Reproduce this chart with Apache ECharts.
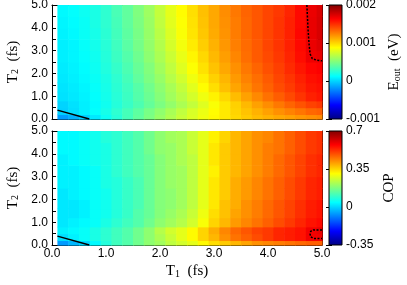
<!DOCTYPE html>
<html>
<head>
<meta charset="utf-8">
<script src="https://cdn.jsdelivr.net/npm/echarts@6/dist/echarts.min.js"></script>
<style>
  html, body { margin: 0; padding: 0; background: #fff; }
  #main { width: 407px; height: 285px; }
</style>
</head>
<body>
<div id="main"></div>
<script>
// cell centres along T1 (fs), 0.2 fs wide
const t1Centers = [0.2, 0.4, 0.6, 0.8, 1.0, 1.2, 1.4, 1.6, 1.8, 2.0, 2.2, 2.4, 2.6,
  2.8, 3.0, 3.2, 3.4, 3.6, 3.8, 4.0, 4.2, 4.4, 4.6, 4.8, 5.0];
// row edges along T2 (fs)
const t2Edges = [0, 0.2, 0.5, 0.8, 1.2, 1.6, 2.0, 2.5, 3.0, 3.5, 4.0, 4.5, 5.0];

// E_out in units of 1e-3 eV, one row per T2 band, from T2 = 0 upward
const eOutRows = [
  [-0.16, -0.10, -0.02, 0.06, 0.16, 0.24, 0.33, 0.41, 0.49, 0.57, 0.64, 0.71, 0.77, 0.83, 0.89, 0.94, 0.99, 1.03, 1.07, 1.10, 1.13, 1.15, 1.18, 1.20, 1.22],
  [-0.01, 0.03, 0.08, 0.13, 0.19, 0.26, 0.33, 0.40, 0.48, 0.55, 0.62, 0.69, 0.76, 0.82, 0.88, 0.94, 1.00, 1.05, 1.10, 1.15, 1.20, 1.24, 1.28, 1.32, 1.34],
  [0.00, 0.04, 0.08, 0.12, 0.17, 0.23, 0.29, 0.35, 0.42, 0.49, 0.56, 0.63, 0.70, 0.78, 0.86, 0.94, 1.01, 1.08, 1.15, 1.21, 1.27, 1.33, 1.38, 1.43, 1.46],
  [0.04, 0.06, 0.09, 0.13, 0.18, 0.24, 0.30, 0.37, 0.44, 0.52, 0.60, 0.67, 0.75, 0.83, 0.91, 0.99, 1.07, 1.15, 1.22, 1.29, 1.35, 1.41, 1.47, 1.53, 1.56],
  [0.05, 0.07, 0.10, 0.14, 0.19, 0.25, 0.31, 0.38, 0.46, 0.54, 0.62, 0.70, 0.79, 0.88, 0.97, 1.06, 1.14, 1.21, 1.28, 1.34, 1.40, 1.45, 1.51, 1.56, 1.58],
  [0.06, 0.08, 0.11, 0.15, 0.20, 0.26, 0.33, 0.41, 0.49, 0.57, 0.66, 0.74, 0.83, 0.92, 1.01, 1.09, 1.17, 1.24, 1.30, 1.36, 1.42, 1.47, 1.53, 1.58, 1.60],
  [0.07, 0.09, 0.12, 0.16, 0.22, 0.28, 0.35, 0.43, 0.51, 0.60, 0.69, 0.78, 0.87, 0.96, 1.05, 1.13, 1.20, 1.27, 1.33, 1.39, 1.44, 1.50, 1.56, 1.61, 1.63],
  [0.08, 0.10, 0.13, 0.17, 0.23, 0.30, 0.37, 0.45, 0.54, 0.63, 0.72, 0.81, 0.90, 0.99, 1.08, 1.16, 1.23, 1.30, 1.36, 1.41, 1.46, 1.52, 1.59, 1.67, 1.69],
  [0.08, 0.10, 0.14, 0.18, 0.24, 0.31, 0.39, 0.47, 0.56, 0.65, 0.75, 0.84, 0.93, 1.02, 1.10, 1.18, 1.25, 1.31, 1.36, 1.42, 1.47, 1.53, 1.60, 1.68, 1.72],
  [0.09, 0.11, 0.15, 0.19, 0.25, 0.32, 0.40, 0.48, 0.57, 0.67, 0.77, 0.86, 0.95, 1.04, 1.12, 1.19, 1.26, 1.32, 1.37, 1.42, 1.47, 1.53, 1.61, 1.69, 1.74],
  [0.10, 0.12, 0.15, 0.20, 0.26, 0.33, 0.41, 0.49, 0.58, 0.69, 0.79, 0.87, 0.96, 1.05, 1.13, 1.20, 1.26, 1.32, 1.37, 1.42, 1.47, 1.53, 1.60, 1.69, 1.74],
  [0.11, 0.13, 0.16, 0.20, 0.26, 0.34, 0.41, 0.50, 0.59, 0.70, 0.80, 0.88, 0.97, 1.06, 1.13, 1.21, 1.27, 1.33, 1.37, 1.42, 1.46, 1.52, 1.60, 1.68, 1.73]
];

// COP, same layout
const copRows = [
  [-0.06, -0.03, 0.00, 0.04, 0.08, 0.11, 0.13, 0.16, 0.19, 0.21, 0.24, 0.26, 0.28, 0.31, 0.34, 0.36, 0.38, 0.40, 0.42, 0.43, 0.44, 0.45, 0.46, 0.47, 0.47],
  [0.01, 0.03, 0.05, 0.07, 0.09, 0.11, 0.13, 0.16, 0.19, 0.22, 0.25, 0.28, 0.31, 0.35, 0.38, 0.42, 0.45, 0.47, 0.49, 0.51, 0.53, 0.54, 0.55, 0.58, 0.58],
  [0.03, 0.04, 0.05, 0.07, 0.09, 0.11, 0.13, 0.16, 0.19, 0.23, 0.26, 0.28, 0.31, 0.35, 0.39, 0.43, 0.46, 0.48, 0.50, 0.51, 0.53, 0.54, 0.55, 0.58, 0.59],
  [0.02, 0.03, 0.04, 0.05, 0.07, 0.09, 0.11, 0.13, 0.16, 0.19, 0.21, 0.23, 0.26, 0.30, 0.35, 0.38, 0.41, 0.43, 0.45, 0.47, 0.49, 0.51, 0.53, 0.55, 0.56],
  [0.02, 0.02, 0.03, 0.05, 0.06, 0.08, 0.10, 0.13, 0.15, 0.18, 0.20, 0.22, 0.25, 0.29, 0.34, 0.37, 0.40, 0.42, 0.44, 0.46, 0.48, 0.50, 0.52, 0.54, 0.55],
  [0.02, 0.02, 0.03, 0.05, 0.06, 0.08, 0.10, 0.12, 0.15, 0.18, 0.19, 0.21, 0.24, 0.28, 0.33, 0.37, 0.39, 0.42, 0.44, 0.46, 0.48, 0.50, 0.52, 0.54, 0.55],
  [0.02, 0.03, 0.04, 0.05, 0.06, 0.08, 0.10, 0.12, 0.15, 0.18, 0.19, 0.21, 0.24, 0.28, 0.33, 0.36, 0.39, 0.41, 0.43, 0.45, 0.47, 0.49, 0.51, 0.53, 0.54],
  [0.03, 0.03, 0.04, 0.05, 0.07, 0.08, 0.10, 0.12, 0.15, 0.18, 0.20, 0.21, 0.24, 0.28, 0.33, 0.36, 0.39, 0.41, 0.43, 0.45, 0.47, 0.49, 0.51, 0.53, 0.54],
  [0.03, 0.03, 0.04, 0.05, 0.07, 0.09, 0.11, 0.13, 0.15, 0.18, 0.20, 0.21, 0.24, 0.28, 0.32, 0.36, 0.38, 0.40, 0.42, 0.44, 0.46, 0.48, 0.50, 0.52, 0.53],
  [0.03, 0.04, 0.05, 0.06, 0.07, 0.09, 0.11, 0.13, 0.15, 0.18, 0.20, 0.22, 0.24, 0.28, 0.33, 0.36, 0.38, 0.40, 0.42, 0.44, 0.46, 0.48, 0.50, 0.52, 0.53],
  [0.04, 0.04, 0.05, 0.06, 0.07, 0.09, 0.11, 0.13, 0.16, 0.19, 0.20, 0.22, 0.25, 0.28, 0.33, 0.36, 0.38, 0.40, 0.42, 0.44, 0.45, 0.47, 0.49, 0.51, 0.52],
  [0.04, 0.04, 0.05, 0.06, 0.08, 0.09, 0.11, 0.13, 0.16, 0.19, 0.21, 0.22, 0.25, 0.28, 0.32, 0.35, 0.38, 0.40, 0.42, 0.43, 0.45, 0.47, 0.49, 0.51, 0.52]
];

// contour lines [T1, T2]
const eOutZeroLine = [[0.1, 0.39], [0.69, 0]];
const eOutHighLine = [[4.72, 5.0], [4.74, 4.0], [4.76, 3.3], [4.78, 2.85], [4.82, 2.65], [4.9, 2.58], [5.0, 2.55]];
const copZeroLine = [[0.1, 0.39], [0.69, 0]];
const copHighLoop = [[5.0, 0.66], [4.84, 0.66], [4.79, 0.6], [4.78, 0.48], [4.79, 0.36], [4.84, 0.29], [5.0, 0.29]];

// colour bar ranges and ticks
const eOutRange = [-1, 2];            // 1e-3 eV
const eOutTickLabels = { '-1': '-0.001', '0': '0', '1': '0.001', '2': '0.002' };
const copRange = [-0.35, 0.7];
const copTickLabels = { '-0.35': '-0.35', '0': '0', '0.35': '0.35', '0.7': '0.7' };

const jet = ['#00007f', '#0000ff', '#007fff', '#00ffff', '#7fff7f', '#ffff00', '#ff7f00', '#ff0000', '#7f0000'];
const sans = 'Liberation Sans, Arial, sans-serif';
const serif = 'Liberation Serif, Times New Roman, serif';

function buildCells(rows) {
  const out = [];
  rows.forEach((row, r) => {
    row.forEach((v, c) => {
      const x = t1Centers[c];
      out.push([Math.max(x - 0.1, 0.1), Math.min(x + 0.1, 5.0), t2Edges[r], t2Edges[r + 1], v]);
    });
  });
  return out;
}

function renderCell(params, api) {
  const p0 = api.coord([api.value(0), api.value(3)]);
  const p1 = api.coord([api.value(1), api.value(2)]);
  return {
    type: 'rect',
    shape: { x: p0[0], y: p0[1], width: p1[0] - p0[0] + 0.6, height: p1[1] - p0[1] + 0.6 },
    style: { fill: api.visual('color') }
  };
}

function renderBar(params, api) {
  const p0 = api.coord([0, api.value(1)]);
  const p1 = api.coord([1, api.value(0)]);
  const stops = jet.map((c, i) => ({ offset: i / (jet.length - 1), color: c }));
  return {
    type: 'rect',
    shape: { x: p0[0], y: p0[1], width: p1[0] - p0[0], height: p1[1] - p0[1] },
    style: {
      fill: { type: 'linear', x: 0, y: 1, x2: 0, y2: 0, colorStops: stops },
      stroke: '#000', lineWidth: 1
    }
  };
}

const tickStyle = { color: '#000', width: 1 };
const subRich = {
  t: { fontFamily: serif, fontSize: 15, color: '#000', lineHeight: 20, verticalAlign: 'bottom' },
  s: { fontFamily: serif, fontSize: 10, color: '#000', lineHeight: 13, verticalAlign: 'bottom' }
};

function panelX(grid, pos, labels) {
  const ax = {
    type: 'value', gridIndex: grid, position: pos, min: 0, max: 5, interval: 1,
    axisLine: { show: true, onZero: false, lineStyle: tickStyle },
    axisTick: { show: true, inside: true, length: 4, lineStyle: tickStyle },
    minorTick: { show: true, splitNumber: 2, length: 4, lineStyle: tickStyle },
    splitLine: { show: false },
    axisLabel: { show: labels, margin: 3, fontFamily: sans, fontSize: 12, color: '#000',
      formatter: v => v.toFixed(1) }
  };
  if (labels) {
    ax.name = '{t|T}{s|1}{t|  (fs)}';
    ax.nameLocation = 'middle';
    ax.nameGap = 14;
    ax.nameTextStyle = { rich: subRich };
  }
  return ax;
}

function panelY(grid, pos, labels) {
  const ax = {
    type: 'value', gridIndex: grid, position: pos, min: 0, max: 5, interval: 1,
    axisLine: { show: true, onZero: false, lineStyle: tickStyle },
    axisTick: { show: true, inside: true, length: 4, lineStyle: tickStyle },
    minorTick: { show: true, splitNumber: 2, length: 4, lineStyle: tickStyle },
    splitLine: { show: false },
    axisLabel: { show: labels, margin: 4, fontFamily: sans, fontSize: 12, color: '#000',
      formatter: v => v.toFixed(1) }
  };
  if (labels) {
    ax.name = '{t|T}{s|2}{t|  (fs)}';
    ax.nameLocation = 'middle';
    ax.nameRotate = 90;
    ax.nameGap = 28;
    ax.nameTextStyle = { rich: subRich };
  }
  return ax;
}

function barY(grid, pos, range, interval, labels, name) {
  const ax = {
    type: 'value', gridIndex: grid, position: pos, min: range[0], max: range[1], interval: interval,
    axisLine: { show: false },
    axisTick: { show: true, inside: true, length: 3, lineStyle: tickStyle },
    splitLine: { show: false },
    axisLabel: { show: !!labels, margin: 4, fontFamily: sans, fontSize: 12, color: '#000',
      formatter: v => labels ? labels[String(+v.toFixed(2))] : '' }
  };
  if (name) {
    ax.name = name;
    ax.nameLocation = 'middle';
    ax.nameRotate = 90;
    ax.nameGap = 40;
    ax.nameTextStyle = { rich: subRich, fontFamily: serif, fontSize: 15, color: '#000' };
  }
  return ax;
}

const chart = echarts.init(document.getElementById('main'), null, { renderer: 'canvas' });

chart.setOption({
  animation: false,
  backgroundColor: '#fff',
  grid: [
    { left: 52, top: 5, width: 270, height: 114, outerBoundsMode: 'none' },
    { left: 52, top: 131, width: 270, height: 114, outerBoundsMode: 'none' },
    { left: 329, top: 5, width: 13, height: 114, outerBoundsMode: 'none' },
    { left: 329, top: 131, width: 13, height: 114, outerBoundsMode: 'none' }
  ],
  xAxis: [
    panelX(0, 'bottom', false),
    panelX(0, 'top', false),
    panelX(1, 'bottom', true),
    panelX(1, 'top', false),
    { type: 'value', gridIndex: 2, min: 0, max: 1, show: false },
    { type: 'value', gridIndex: 3, min: 0, max: 1, show: false }
  ],
  yAxis: [
    panelY(0, 'left', true),
    panelY(0, 'right', false),
    panelY(1, 'left', true),
    panelY(1, 'right', false),
    barY(2, 'right', eOutRange, 1, eOutTickLabels, '{t|E}{s|out}{t|  (eV)}'),
    barY(2, 'left', eOutRange, 1, null),
    barY(3, 'right', copRange, 0.35, copTickLabels, 'COP'),
    barY(3, 'left', copRange, 0.35, null)
  ],
  visualMap: [
    { type: 'continuous', show: false, seriesIndex: 0, dimension: 4,
      min: eOutRange[0], max: eOutRange[1], inRange: { color: jet } },
    { type: 'continuous', show: false, seriesIndex: 1, dimension: 4,
      min: copRange[0], max: copRange[1], inRange: { color: jet } }
  ],
  series: [
    { type: 'custom', xAxisIndex: 0, yAxisIndex: 0, renderItem: renderCell,
      encode: { x: [0, 1], y: [2, 3] }, data: buildCells(eOutRows), silent: true, z: 1 },
    { type: 'custom', xAxisIndex: 2, yAxisIndex: 2, renderItem: renderCell,
      encode: { x: [0, 1], y: [2, 3] }, data: buildCells(copRows), silent: true, z: 1 },
    { type: 'custom', xAxisIndex: 4, yAxisIndex: 4, renderItem: renderBar,
      encode: { y: [0, 1] }, data: [[eOutRange[0], eOutRange[1]]], silent: true, z: 1 },
    { type: 'custom', xAxisIndex: 5, yAxisIndex: 6, renderItem: renderBar,
      encode: { y: [0, 1] }, data: [[copRange[0], copRange[1]]], silent: true, z: 1 },
    { type: 'line', xAxisIndex: 0, yAxisIndex: 0, data: eOutZeroLine, symbol: 'none',
      lineStyle: { color: '#000', width: 1.5 }, z: 3, silent: true },
    { type: 'line', xAxisIndex: 0, yAxisIndex: 0, data: eOutHighLine, symbol: 'none',
      lineStyle: { color: '#000', width: 1.5, type: [2, 1.5] }, z: 3, silent: true },
    { type: 'line', xAxisIndex: 2, yAxisIndex: 2, data: copZeroLine, symbol: 'none',
      lineStyle: { color: '#000', width: 1.5 }, z: 3, silent: true },
    { type: 'line', xAxisIndex: 2, yAxisIndex: 2, data: copHighLoop, symbol: 'none',
      lineStyle: { color: '#000', width: 1.5, type: [2, 1.5] }, z: 3, silent: true }
  ],
  graphic: [
    { type: 'text', left: 92, top: 22, style: { text: '(a)', font: '13px ' + serif, fill: '#000' } },
    { type: 'text', left: 92, top: 147, style: { text: '(b)', font: '13px ' + serif, fill: '#000' } }
  ]
});
</script>
</body>
</html>
